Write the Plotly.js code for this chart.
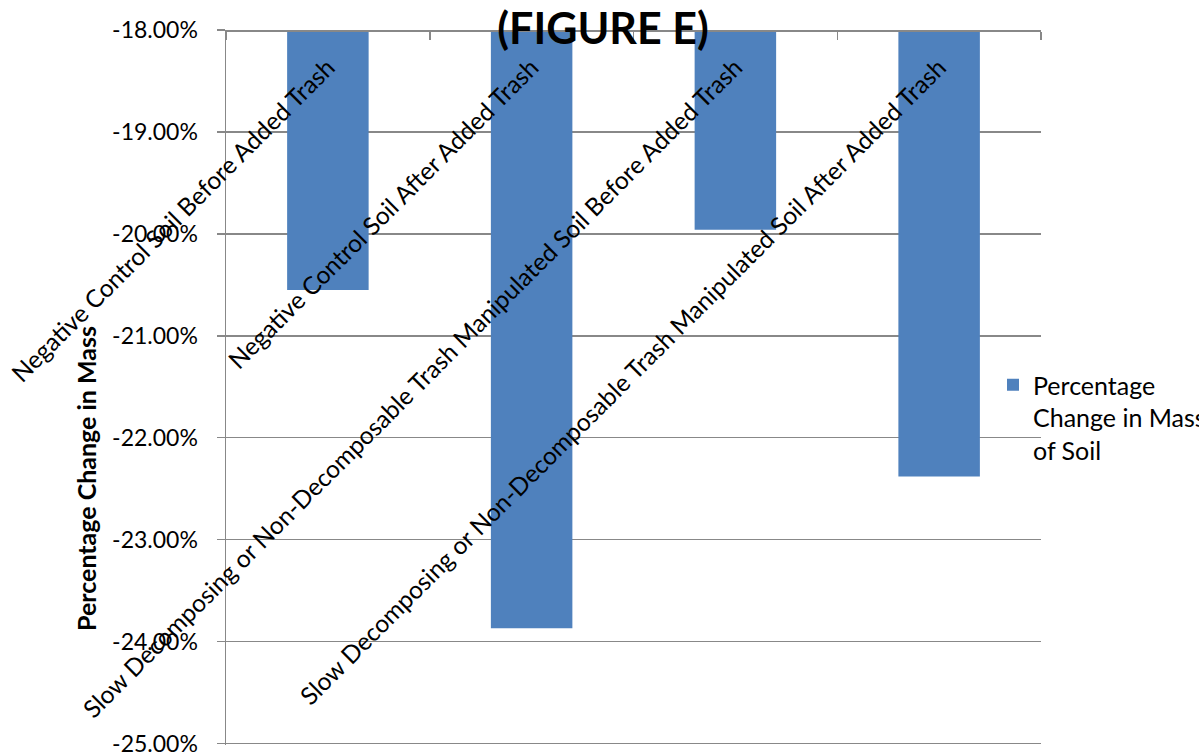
<!DOCTYPE html>
<html>
<head>
<meta charset="utf-8">
<script src="https://cdn.plot.ly/plotly-3.0.1.min.js"></script>
<style>
  html, body { margin: 0; padding: 0; background: #ffffff; }
  #chart { width: 1199px; height: 756px; }
</style>
</head>
<body>
<div id="chart"></div>
<script>
// Soil samples compared in the experiment
const categories = [
  "Negative Control Soil Before Added Trash",
  "Negative Control Soil After Added Trash",
  "Slow Decomposing or Non-Decomposable Trash Manipulated Soil Before Added Trash",
  "Slow Decomposing or Non-Decomposable Trash Manipulated Soil After Added Trash"
];

// Percentage change in soil mass (percent units)
const percentChange = [-20.55, -23.87, -19.96, -22.38];

// Value-axis ticks and their labels
const yTickVals = [-25, -24, -23, -22, -21, -20, -19, -18];
const yTickText = ["-25.00%", "-24.00%", "-23.00%", "-22.00%", "-21.00%", "-20.00%", "-19.00%", "-18.00%"];

const seriesName = "Percentage<br>Change in Mass<br>of Soil";
const chartTitle = "(FIGURE E)";
const yAxisTitle = "Percentage Change in Mass";

const FONT = "Lato, 'Open Sans', sans-serif";
const GRID = "#888888";

const trace = {
  type: "bar",
  x: categories,
  y: percentChange,
  name: seriesName,
  width: 0.4,
  marker: { color: "#4F81BD" },
  showlegend: true,
  hoverinfo: "skip"
};

// plot area: 30px from the top, 11px from the bottom
const PLOT_TOP = 30, PLOT_H = 756 - 30 - 11;

const layout = {
  width: 1199,
  height: 756,
  paper_bgcolor: "#ffffff",
  plot_bgcolor: "#ffffff",
  margin: { l: 226, r: 158, t: PLOT_TOP, b: 11, autoexpand: false },
  font: { family: FONT, color: "#000000" },
  showlegend: true,
  title: {
    text: "<b>" + chartTitle + "</b>",
    font: { family: FONT, size: 43, color: "#000000" },
    xref: "paper",
    x: (603 - 226) / 815,
    xanchor: "center",
    yref: "container",
    y: 1 - 29 / 756,
    yanchor: "middle"
  },
  xaxis: {
    type: "category",
    anchor: "free",
    position: 1,
    side: "bottom",
    showline: true,
    linecolor: GRID,
    linewidth: 1.5,
    ticks: "outside",
    tickson: "boundaries",
    ticklen: 8,
    tickwidth: 1.5,
    tickcolor: GRID,
    tickangle: -45,
    ticklabelstandoff: 12,
    ticklabeloverflow: "allow",
    tickfont: { family: FONT, size: 24.5, color: "#000000" },
    showgrid: false,
    automargin: false,
    fixedrange: true
  },
  yaxis: {
    // a little headroom below -25 so its gridline is kept at the edge
    range: [-25.015, -18],
    tickmode: "array",
    tickvals: yTickVals,
    ticktext: yTickText,
    showline: true,
    linecolor: GRID,
    linewidth: 1.5,
    ticks: "outside",
    ticklen: 8,
    tickwidth: 1.5,
    tickcolor: GRID,
    ticklabelstandoff: 14,
    ticklabeloverflow: "allow",
    tickfont: { family: FONT, size: 23, color: "#000000" },
    showgrid: true,
    gridcolor: GRID,
    gridwidth: 1.5,
    zeroline: false,
    automargin: false,
    fixedrange: true
  },
  legend: {
    x: (993 - 226) / 815,
    xanchor: "left",
    y: 1 - (362 - PLOT_TOP) / PLOT_H,
    yanchor: "top",
    valign: "top",
    bgcolor: "rgba(0,0,0,0)",
    font: { family: FONT, size: 25, color: "#000000" }
  },
  annotations: [
    {
      text: "<b>" + yAxisTitle + "</b>",
      xref: "paper",
      x: (86 - 226) / 815,
      xanchor: "center",
      yref: "paper",
      y: 1 - (479 - PLOT_TOP) / PLOT_H,
      yanchor: "middle",
      textangle: -90,
      showarrow: false,
      font: { family: FONT, size: 25, color: "#000000" }
    }
  ]
};

Plotly.newPlot("chart", [trace], layout, { staticPlot: true, displayModeBar: false });
</script>
</body>
</html>
